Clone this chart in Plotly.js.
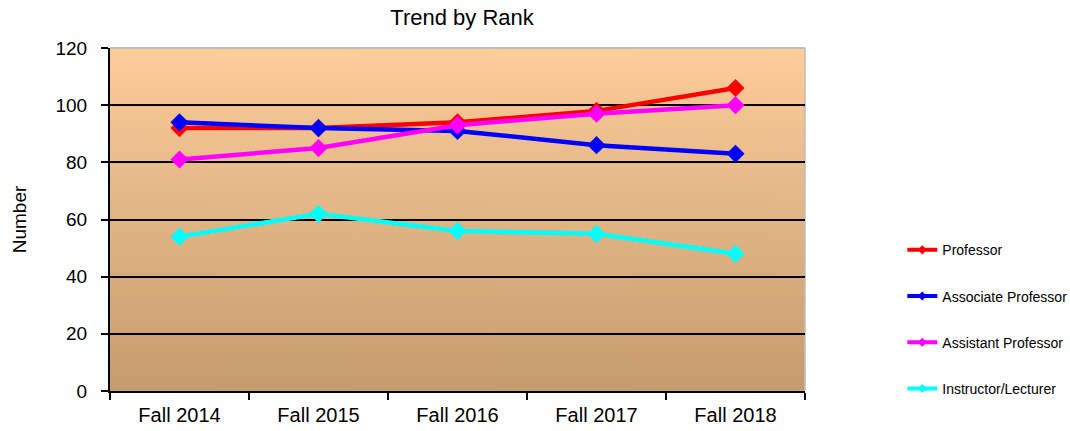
<!DOCTYPE html>
<html>
<head>
<meta charset="utf-8">
<script src="https://cdn.plot.ly/plotly-3.0.1.min.js"></script>
<style>html,body{margin:0;padding:0;background:#fff;}#chart{width:1070px;height:431px;}</style>
</head>
<body>
<div id="chart"></div>
<script>
var categories = ["Fall 2014", "Fall 2015", "Fall 2016", "Fall 2017", "Fall 2018"];
var professor = [92, 92, 94, 98, 106];
var associateProfessor = [94, 92, 91, 86, 83];
var assistantProfessor = [81, 85, 93, 97, 100];
var instructorLecturer = [54, 62, 56, 55, 48];
var seriesNames = ["Professor", "Associate Professor", "Assistant Professor", "Instructor/Lecturer"];
var seriesColors = ["#FF0000", "#0000FF", "#FF00FF", "#00FFFF"];
var yTicks = [0, 20, 40, 60, 80, 100, 120];

// gradient background image
var cv = document.createElement("canvas");
cv.width = 10; cv.height = 400;
var ctx = cv.getContext("2d");
var g = ctx.createLinearGradient(0, 0, 0, 400);
g.addColorStop(0, "#FDCD9A");
g.addColorStop(1, "#C59C6F");
ctx.fillStyle = g;
ctx.fillRect(0, 0, 10, 400);
var bgUrl = cv.toDataURL("image/png");

var allSeries = [professor, associateProfessor, assistantProfessor, instructorLecturer];
var traces = allSeries.map(function (vals, i) {
  return {
    type: "scatter",
    mode: "lines+markers",
    x: categories,
    y: vals,
    name: seriesNames[i],
    showlegend: false,
    line: {color: seriesColors[i], width: 4.5},
    marker: {symbol: "diamond", size: 14, color: seriesColors[i]}
  };
});
// legend-only entries with small markers
seriesNames.forEach(function (nm, i) {
  traces.push({
    type: "scatter",
    mode: "lines+markers",
    x: [null],
    y: [null],
    name: nm,
    legendgroup: "g" + i,
    showlegend: true,
    line: {color: seriesColors[i], width: 4},
    marker: {symbol: "diamond", size: 7, color: seriesColors[i]}
  });
});

var layout = {
  width: 1070,
  height: 431,
  margin: {l: 110, r: 265, t: 48, b: 40, autoexpand: false},
  paper_bgcolor: "#FFFFFF",
  plot_bgcolor: "rgba(0,0,0,0)",
  font: {family: "Liberation Sans, Arial, sans-serif", color: "#000", size: 16},
  title: {text: "Trend by Rank", font: {size: 22, color: "#000"}, x: 0.5065, xref: "paper", xanchor: "center", y: 0.96, yanchor: "middle"},
  xaxis: {
    type: "category",
    range: [-0.5, 4.5],
    showline: true, linecolor: "#000", linewidth: 2,
    ticks: "outside", ticklen: 7, tickwidth: 2, tickcolor: "#000",
    tickson: "boundaries",
    ticklabelstandoff: 5,
    showgrid: false,
    tickfont: {size: 20}
  },
  yaxis: {
    range: [0, 120],
    tickvals: yTicks,
    showline: true, linecolor: "#000", linewidth: 2,
    ticks: "outside", ticklen: 7, tickwidth: 2, tickcolor: "#000",
    ticklabelstandoff: 10,
    showgrid: true, gridcolor: "#000", gridwidth: 2,
    zeroline: false,
    tickfont: {size: 19},
    title: {text: "Number", font: {size: 19}, standoff: 24}
  },
  legend: {
    x: 1.14, xanchor: "left", y: 0.457, yanchor: "top",
    font: {size: 14},
    traceorder: "grouped",
    tracegroupgap: 25,
    bgcolor: "rgba(0,0,0,0)"
  },
  images: [{
    source: bgUrl, xref: "paper", yref: "paper", x: 0, y: 1,
    sizex: 1, sizey: 1, sizing: "stretch", layer: "below", xanchor: "left", yanchor: "top"
  }],
  shapes: [
    {type: "line", xref: "paper", yref: "paper", x0: 0, x1: 1, y0: 1, y1: 1, line: {color: "#BDBDBD", width: 2}, layer: "above"},
    {type: "line", xref: "paper", yref: "paper", x0: 1, x1: 1, y0: 0, y1: 1, line: {color: "#BDBDBD", width: 1.5}, layer: "below"}
  ],
  showlegend: true
};

Plotly.newPlot("chart", traces, layout, {displayModeBar: false, staticPlot: true});
</script>
</body>
</html>
